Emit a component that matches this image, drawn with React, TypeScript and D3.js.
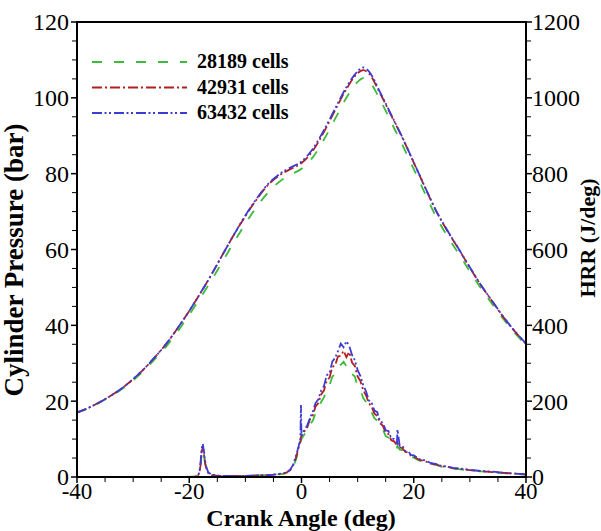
import React from "react";
import * as d3 from "d3";

const seriesNames = ["28189 cells", "42931 cells", "63432 cells"];
const seriesColors = ["#3dbb3d", "#b41e1e", "#3c3cd2"];
const seriesDash = ["10,12", "10,3,2,3", "10,2.5,2,2.5,2,3"];

const xTicks = [-40, -20, 0, 20, 40];
const yTicks = [0, 20, 40, 60, 80, 100, 120];
const y2Ticks = [0, 200, 400, 600, 800, 1000, 1200];

const pAngles = [-40, -38, -36, -34, -32, -30, -28, -26, -24, -22, -20, -18, -16, -14, -12, -10, -8, -6, -4, -2, 0, 2, 4, 6, 8, 10, 11, 12, 14, 16, 18, 20, 22, 24, 26, 28, 30, 32, 34, 36, 38, 40];
const pGreen = [17.0, 18.1, 19.6, 21.3, 23.2, 25.5, 28.2, 31.3, 34.6, 38.5, 42.8, 47.3, 52.0, 57.0, 62.0, 66.8, 71.2, 75.0, 77.8, 79.7, 81.3, 84.3, 89.0, 94.5, 100.0, 104.2, 105.2, 104.5, 99.5, 93.5, 87.5, 81.2, 74.8, 68.6, 63.5, 58.9, 54.2, 49.7, 45.6, 41.6, 38.0, 34.8];
const pRed = [17.0, 18.2, 19.7, 21.4, 23.4, 25.8, 28.6, 31.8, 35.3, 39.4, 43.8, 48.5, 53.5, 58.8, 64.0, 68.8, 73.2, 77.0, 79.5, 81.2, 82.8, 86.0, 91.0, 96.8, 102.3, 106.5, 107.3, 106.4, 101.2, 95.3, 89.4, 82.9, 76.4, 70.1, 64.9, 60.1, 55.2, 50.5, 46.3, 42.1, 38.4, 35.1];
const pBlue = [17.0, 18.2, 19.7, 21.4, 23.4, 25.8, 28.6, 31.8, 35.3, 39.4, 43.8, 48.5, 53.5, 58.8, 64.0, 69.0, 73.4, 77.2, 79.8, 81.6, 83.2, 86.5, 91.5, 97.2, 102.8, 107.0, 108.0, 107.0, 101.5, 95.5, 89.5, 83.0, 76.5, 70.2, 65.0, 60.2, 55.3, 50.6, 46.4, 42.2, 38.5, 35.2];

const hAngles = [-40, -36, -32, -28, -24, -21, -19, -18.5, -18.2, -18, -17.8, -17.6, -17.4, -17.2, -17, -16.6, -16, -15, -14, -12, -10, -8, -6, -5, -4, -3, -2.5, -2, -1.5, -1, -0.5, -0.2, -0.1, 0, 0.5, 1, 1.5, 2, 2.5, 3, 3.5, 4, 4.5, 5, 5.5, 6, 6.5, 7, 7.5, 8, 8.5, 9, 9.5, 10, 10.5, 11, 11.5, 12, 12.5, 13, 13.5, 14, 14.5, 15, 15.5, 16, 16.5, 17, 17.1, 17.5, 18, 18.5, 19, 19.5, 20, 21, 22, 23, 24, 25, 26, 27, 28, 30, 32, 34, 36, 38, 40];
const hGreen = [0, 0, 0, 0, 0, 0, 1, 3, 10, 28, 58, 72, 58, 38, 22, 9, 5, 3, 3, 3, 3, 4, 5, 6, 7, 9, 12, 16, 26, 45, 70, 88, 95, 100, 112, 120, 138, 148, 168, 178, 198, 210, 230, 242, 265, 272, 292, 296, 304, 292, 293, 272, 265, 238, 230, 208, 198, 178, 170, 155, 148, 130, 125, 108, 104, 92, 88, 78, 82, 72, 71, 62, 61, 53, 51, 43, 40, 34, 32, 27, 26, 22, 21, 17, 15, 12, 10, 8, 6];
const hRed = [0, 0, 0, 0, 0, 0, 1, 3, 10, 30, 65, 78, 62, 40, 25, 10, 5, 3, 3, 3, 3, 4, 5, 6, 8, 10, 13, 18, 30, 50, 78, 95, 105, 110, 120, 130, 152, 162, 186, 195, 218, 228, 254, 262, 290, 295, 318, 320, 333, 316, 330, 302, 293, 265, 253, 229, 215, 195, 185, 167, 161, 142, 135, 117, 113, 97, 94, 84, 90, 78, 76, 66, 65, 56, 54, 45, 42, 35, 33, 28, 27, 23, 22, 18, 15, 13, 11, 9, 7];
const hBlue = [0, 0, 0, 0, 0, 0, 1, 3, 12, 35, 75, 88, 70, 45, 28, 12, 6, 4, 3, 3, 3, 4, 5, 6, 8, 10, 14, 20, 32, 55, 82, 100, 190, 108, 125, 135, 155, 172, 195, 205, 228, 240, 268, 274, 305, 314, 332, 352, 342, 358, 346, 322, 308, 282, 266, 242, 226, 202, 196, 175, 171, 147, 143, 123, 121, 102, 100, 90, 125, 82, 82, 68, 68, 58, 57, 47, 44, 37, 34, 29, 28, 24, 23, 19, 16, 14, 11, 9, 7];

const W = 601;
const H = 531;
const L = 77, R = 526, T = 22, B = 477;
const FONT = "'Liberation Serif', 'Times New Roman', serif";

export default function App() {
  const x = d3.scaleLinear().domain([-40, 40]).range([L, R]);
  const y = d3.scaleLinear().domain([0, 120]).range([B, T]);
  const y2 = d3.scaleLinear().domain([0, 1200]).range([B, T]);

  const pSeries = [pGreen, pRed, pBlue];
  const hSeries = [hGreen, hRed, hBlue];

  const pLine = d3
    .line<number>()
    .x((_, i) => x(pAngles[i]))
    .y((d) => y(d))
    .curve(d3.curveMonotoneX);
  const hLine = d3
    .line<number>()
    .x((_, i) => x(hAngles[i]))
    .y((d) => y2(d));

  const xMinor = d3.range(-40, 40.01, 5).filter((v) => !xTicks.includes(v));
  const yMinor = d3.range(0, 120.01, 5).filter((v) => !yTicks.includes(v));

  return (
    <svg
      width={W}
      height={H}
      style={{ position: "fixed", left: 0, top: 0, background: "#fff" }}
    >
      <rect x={0} y={0} width={W} height={H} fill="#fff" />
      <defs>
        <clipPath id="clip">
          <rect x={L} y={T - 2} width={R - L} height={B - T + 2} />
        </clipPath>
      </defs>
      <g clipPath="url(#clip)">
        {hSeries.map((s, i) => (
          <path
            key={"h" + i}
            d={hLine(s) || ""}
            fill="none"
            stroke={seriesColors[i]}
            strokeWidth={1.8}
            strokeDasharray={seriesDash[i]}
          />
        ))}
        {pSeries.map((s, i) => (
          <path
            key={"p" + i}
            d={pLine(s) || ""}
            fill="none"
            stroke={seriesColors[i]}
            strokeWidth={1.8}
            strokeDasharray={seriesDash[i]}
          />
        ))}
      </g>

      {/* frame */}
      <rect x={L} y={T} width={R - L} height={B - T} fill="none" stroke="#000" strokeWidth={2} />

      {/* left axis ticks */}
      {yTicks.map((v) => (
        <line key={"yt" + v} x1={L - 6} x2={L} y1={y(v)} y2={y(v)} stroke="#000" strokeWidth={1.5} />
      ))}
      {yMinor.map((v) => (
        <line key={"ym" + v} x1={L - 5} x2={L} y1={y(v)} y2={y(v)} stroke="#000" strokeWidth={1} />
      ))}
      {yTicks.map((v) => (
        <text key={"yl" + v} x={L - 8} y={y(v)} dy="0.35em" textAnchor="end" fontFamily={FONT} fontSize={24}>
          {v}
        </text>
      ))}

      {/* right axis ticks */}
      {y2Ticks.map((v) => (
        <line key={"y2t" + v} x1={R} x2={R + 6} y1={y2(v)} y2={y2(v)} stroke="#000" strokeWidth={1.5} />
      ))}
      {yMinor.map((v) => (
        <line key={"y2m" + v} x1={R} x2={R + 5} y1={y(v)} y2={y(v)} stroke="#000" strokeWidth={1} />
      ))}
      {y2Ticks.map((v) => (
        <text key={"y2l" + v} x={R + 6} y={y2(v)} dy="0.35em" textAnchor="start" fontFamily={FONT} fontSize={24}>
          {v}
        </text>
      ))}

      {/* bottom axis ticks */}
      {xTicks.map((v) => (
        <line key={"xt" + v} x1={x(v)} x2={x(v)} y1={B} y2={B + 6} stroke="#000" strokeWidth={1.5} />
      ))}
      {xMinor.map((v) => (
        <line key={"xm" + v} x1={x(v)} x2={x(v)} y1={B} y2={B + 5} stroke="#000" strokeWidth={1} />
      ))}
      {xTicks.map((v) => (
        <text key={"xl" + v} x={x(v)} y={B + 22} textAnchor="middle" fontFamily={FONT} fontSize={23}>
          {v}
        </text>
      ))}

      {/* axis titles */}
      <text x={301} y={526} textAnchor="middle" fontFamily={FONT} fontSize={24} fontWeight="bold">
        Crank Angle (deg)
      </text>
      <text
        transform={`translate(23, 260) rotate(-90)`}
        textAnchor="middle"
        fontFamily={FONT}
        fontSize={27}
        fontWeight="bold"
      >
        Cylinder Pressure (bar)
      </text>
      <text
        transform={`translate(595, 238) rotate(-90)`}
        textAnchor="middle"
        fontFamily={FONT}
        fontSize={22}
        fontWeight="bold"
      >
        HRR (J/deg)
      </text>

      {/* legend */}
      {seriesNames.map((n, i) => {
        const ly = 62 + i * 25.5;
        return (
          <g key={"lg" + i}>
            <line x1={92} x2={187} y1={ly} y2={ly} stroke={seriesColors[i]} strokeWidth={1.8} strokeDasharray={seriesDash[i]} />
            <text x={197} y={ly + 6} fontFamily={FONT} fontSize={20} fontWeight="bold">
              {n}
            </text>
          </g>
        );
      })}
    </svg>
  );
}
